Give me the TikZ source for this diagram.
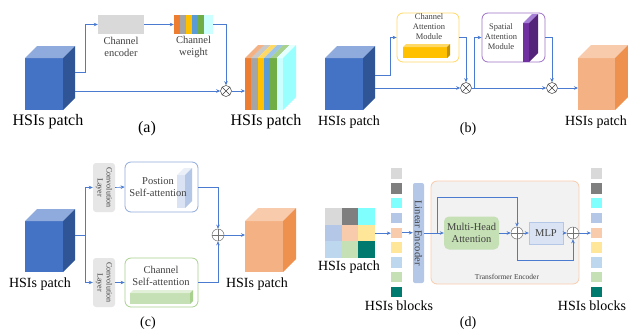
\documentclass[tikz,border=0pt]{standalone}
\usepackage{fontspec}
\setmainfont{Liberation Serif}
\usetikzlibrary{arrows.meta}
\definecolor{lineblue}{HTML}{4A7BD0}
\definecolor{blueF}{HTML}{4472C4}
\definecolor{blueT}{HTML}{8FAADC}
\definecolor{blueS}{HTML}{2F5597}
\definecolor{peachF}{HTML}{F4B183}
\definecolor{peachT}{HTML}{F8CBAD}
\definecolor{peachS}{HTML}{EE914F}
\definecolor{stO}{HTML}{ED7D31}
\definecolor{stG}{HTML}{A5A5A5}
\definecolor{stY}{HTML}{FFC000}
\definecolor{stB}{HTML}{5B9BD5}
\definecolor{stGr}{HTML}{70AD47}
\definecolor{stC}{HTML}{CCFFFF}
\definecolor{stOt}{HTML}{F4B183}
\definecolor{stGt}{HTML}{C9C9C9}
\definecolor{stYt}{HTML}{FFD966}
\definecolor{stBt}{HTML}{9DC3E6}
\definecolor{stGrt}{HTML}{A9D18E}
\definecolor{stCt}{HTML}{E5FFFF}
\definecolor{cyanS}{HTML}{99FFFF}
\definecolor{encgray}{HTML}{D9D9D9}
\definecolor{goldB}{HTML}{FFD966}
\definecolor{goldF}{HTML}{FFC000}
\definecolor{goldT}{HTML}{FFD966}
\definecolor{goldS}{HTML}{BF9000}
\definecolor{purB}{HTML}{9E72C8}
\definecolor{purF}{HTML}{7030A0}
\definecolor{purT}{HTML}{A680D6}
\definecolor{purS}{HTML}{532479}
\definecolor{convgray}{HTML}{E7E6E6}
\definecolor{posB}{HTML}{8FAADC}
\definecolor{posF}{HTML}{DAE3F3}
\definecolor{posT}{HTML}{EAEFF8}
\definecolor{posS}{HTML}{B4C7E7}
\definecolor{grnB}{HTML}{A9D18E}
\definecolor{grnF}{HTML}{C5E0B4}
\definecolor{grnT}{HTML}{E2F0D9}
\definecolor{grnS}{HTML}{A9D18E}
\definecolor{linF}{HTML}{B4C7E7}
\definecolor{trF}{HTML}{F2F2F2}
\definecolor{trB}{HTML}{F8CBAD}
\definecolor{mlpF}{HTML}{DAE3F3}
\definecolor{txtgray}{HTML}{404040}
\definecolor{ca}{HTML}{D9D9D9}
\definecolor{cb}{HTML}{7F7F7F}
\definecolor{cc}{HTML}{80FFFF}
\definecolor{cd}{HTML}{B4C7E7}
\definecolor{ce}{HTML}{F8CBAD}
\definecolor{cf}{HTML}{FFE699}
\definecolor{cg}{HTML}{BDD7EE}
\definecolor{ch}{HTML}{C5E0B4}
\definecolor{ci}{HTML}{007A6E}
\newcommand{\cubenode}[9]{%
  \node[inner sep=0pt, outer sep=0pt, minimum width=#4, minimum height=#5, anchor=north west, fill=#7] (#1) at (#2,#3) {};
  \fill[#8] (#1.north west) -- ++(#6,-#6) -- ++(#4,0) -- (#1.north east) -- cycle;
  \fill[#9] (#1.north east) -- ++(#6,-#6) -- ++(0,#5) -- (#1.south east) -- cycle;
}
\begin{document}
\begin{tikzpicture}[x=1pt,y=-1pt,
  conn/.style={draw=lineblue, line width=0.6pt},
  arr/.style={conn, -{Stealth[length=4pt,width=3.5pt]}},
  lbl/.style={font=\fontsize{14}{16}\selectfont, inner sep=0pt},
  lblA/.style={font=\fontsize{16}{18}\selectfont, inner sep=0pt},
  smA/.style={font=\fontsize{10.5}{12}\selectfont, text=txtgray, inner sep=0pt, align=center},
  smB/.style={font=\fontsize{8.5}{10}\selectfont, text=txtgray, inner sep=0pt, align=center},
  smC/.style={font=\fontsize{8}{9}\selectfont, text=txtgray, inner sep=0pt, align=center},
  smD/.style={font=\fontsize{10.5}{12}\selectfont, text=txtgray, inner sep=0pt, align=center},
  otimes/.style={circle, draw=black!75, line width=0.5pt, fill=white, minimum size=11pt, inner sep=0pt,
    path picture={\draw[black!75, line width=0.5pt] (path picture bounding box.south west) -- (path picture bounding box.north east) (path picture bounding box.north west) -- (path picture bounding box.south east);}},
  oplus/.style={circle, draw=black!55, line width=0.5pt, fill=white, minimum size=12pt, inner sep=0pt,
    path picture={\draw[black!55, line width=0.5pt] (path picture bounding box.west) -- (path picture bounding box.east) (path picture bounding box.north) -- (path picture bounding box.south);}},
  blk/.style={minimum width=11, minimum height=10.5, inner sep=0pt},
  rbox/.style={line width=0.8pt, rounded corners=6pt, fill=white, inner sep=0pt},
]
\useasboundingbox (0,0) rectangle (628,333);
\fill[white] (0,0) rectangle (628,333);

% ---------------- (a)
\cubenode{ain}{25}{58}{38}{52}{12}{blueF}{blueT}{blueS}
\node[lblA] (ainl) at (48,122) {HSIs patch};
\node[fill=encgray, minimum width=46, minimum height=19, inner sep=0pt] (enc) at (121,24.5) {};
\node[smA] (encl) at (121,47) {Channel\\encoder};
\node[minimum width=39, minimum height=19, inner sep=0pt] (wgt) at (193.5,24.5) {};
\foreach \c [count=\i from 0] in {stO,stG,stY,stB,stGr} \fill[\c] (174+6*\i,15) rectangle ++(6,19);
\fill[stC] (204,15) rectangle (213,34);
\node[smA] (wgtl) at (193.5,47) {Channel\\weight};
\node[otimes] (ma) at (226,91) {};
\coordinate (ao1) at (75,72);
\coordinate (ao2) at (75,91);
\draw[arr] (ao1) -- ++(10,0) |- (enc.west);
\draw[arr] (enc.east) -- (wgt.west);
\draw[arr] (wgt.east) -| (ma.north);
\draw[arr] (ao2) -- (ma.west);
\foreach \cf/\ct [count=\i from 0] in {stO/stOt,stG/stGt,stY/stYt,stB/stBt,stGr/stGrt,stC/stCt} {
  \fill[\cf] (245+6.333*\i,58) rectangle ++(6.333,52);
  \fill[\ct] (245+6.333*\i,58) -- ++(13,-13) -- ++(6.333,0) -- ++(-13,13) -- cycle;
}
\fill[cyanS] (283,58) -- ++(13,-13) -- ++(0,52) -- ++(-13,13) -- cycle;
\node[inner sep=0pt, minimum width=38, minimum height=52, anchor=north west] (aout) at (245,58) {};
\draw[arr] (ma.east) -- (ma.east -| aout.west);
\node[lblA] (aoutl) at (266,122) {HSIs patch};
\node[lblA] (capa) at (147,129) {(a)};

% ---------------- (b)
\cubenode{bin}{325}{58}{38}{52}{12}{blueF}{blueT}{blueS}
\node[lbl] (binl) at (349,122) {HSIs patch};
\node[rbox, draw=goldB, minimum width=62, minimum height=49] (cam) at (428,37.5) {};
\cubenode{gbar}{403}{47}{44}{11}{3}{goldF}{goldT}{goldS}
\node[smB] (caml) at (429,27) {Channel\\Attention\\Module};
\node[rbox, draw=purB, minimum width=63, minimum height=49] (sam) at (513.5,37.5) {};
\cubenode{pslab}{523}{23}{6}{39}{9}{purF}{purT}{purS}
\node[smB] (saml) at (501,37) {Spatial\\Attention\\Module};
\node[otimes] (mb1) at (466,88) {};
\node[otimes] (mb2) at (552,88) {};
\coordinate (bo1) at (375,75);
\coordinate (bo2) at (375,88);
\coordinate (bbr) at (474,88);
\draw[arr] (bo1) -- ++(15,0) |- (cam.west);
\draw[arr] (cam.east) -| (mb1.north);
\draw[arr] (bo2) -- (mb1.west);
\draw[arr] (mb1.east) -- (mb2.west);
\draw[arr] (bbr) |- (sam.west);
\draw[arr] (sam.east) -| (mb2.north);
\cubenode{bout}{578}{58}{37}{52}{13}{peachF}{peachT}{peachS}
\draw[arr] (mb2.east) -- (mb2.east -| bout.west);
\node[lbl] (boutl) at (596,122) {HSIs patch};
\node[lbl] (capb) at (468,129) {(b)};

% ---------------- (c)
\cubenode{cin}{25}{221}{38}{51}{12}{blueF}{blueT}{blueS}
\node[lbl] (cinl) at (40,284) {HSIs patch};
\node[fill=convgray, rounded corners=3pt, minimum width=22, minimum height=49, inner sep=0pt] (conv1) at (104,187.5) {};
\node[smC, rotate=-90] (conv1l) at (conv1.center) {Convolution\\Layer};
\node[fill=convgray, rounded corners=3pt, minimum width=22, minimum height=49, inner sep=0pt] (conv2) at (104,282.5) {};
\node[smC, rotate=-90] (conv2l) at (conv2.center) {Convolution\\Layer};
\node[rbox, draw=posB, minimum width=73, minimum height=50] (pos) at (161.5,187) {};
\cubenode{pslab2}{177}{175}{8}{33}{7}{posF}{posT}{posS}
\node[smD] (posl) at (158,187.5) {Postion\\Self-attention};
\node[rbox, draw=grnB, minimum width=73, minimum height=49] (chs) at (161.5,282.5) {};
\cubenode{gbar2}{130}{293}{60}{11}{3}{grnF}{grnT}{grnS}
\node[smD] (chsl) at (161,275.5) {Channel\\Self-attention};
\node[oplus] (pc) at (218,235) {};
\coordinate (co) at (75,235);
\coordinate (cbr) at (85,235);
\draw[conn] (co) -- (cbr);
\draw[arr] (cbr) |- (conv1.west);
\draw[arr] (cbr) |- (conv2.west);
\draw[arr] (conv1.east) -- (pos.west);
\draw[arr] (conv2.east) -- (chs.west);
\draw[arr] (pos.east) -| (pc.north);
\draw[arr] (chs.east) -| (pc.south);
\cubenode{cout}{245}{221}{38}{51}{13}{peachF}{peachT}{peachS}
\draw[arr] (pc.east) -- (pc.east -| cout.west);
\node[lbl] (coutl) at (257,284) {HSIs patch};
\node[lbl] (capc) at (148,323) {(c)};

% ---------------- (d)
\foreach \c [count=\i from 0] in {ca,cb,cc,cd,ce,cf,cg,ch,ci} {
  \pgfmathtruncatemacro\col{mod(\i,3)}
  \pgfmathtruncatemacro\row{\i/3}
  \fill[\c] (325+16.667*\col,208+16.667*\row) rectangle ++(16.667,16.667);
  \node[blk, fill=\c] (bl\i) at (396.5,173.55+14.8*\i) {};
  \node[blk, fill=\c] (br\i) at (596.5,173.55+14.8*\i) {};
}
\node[inner sep=0pt, minimum size=50, anchor=north west] (grid) at (325,208) {};
\node[lbl] (gridl) at (349,267) {HSIs patch};
\node[lbl] (bll) at (399,306) {HSIs blocks};
\node[lbl] (brl) at (592,306) {HSIs blocks};
\node[fill=linF, rounded corners=2pt, minimum width=11, minimum height=100, inner sep=0pt] (lin) at (418.5,233) {};
\node[smD, rotate=-90] (linl) at (lin.center) {Linear Encoder};
\node[fill=trF, draw=trB, line width=0.8pt, rounded corners=6pt, minimum width=148, minimum height=103, inner sep=0pt] (tr) at (505,232.5) {};
\node[font=\fontsize{7.5}{9}\selectfont, text=txtgray, inner sep=0pt] (trl) at (507,277) {Transformer Encoder};
\node[smD, fill=grnF, rounded corners=5pt, minimum width=55, minimum height=33] (mha) at (471.5,233) {Multi-Head\\Attention};
\node[oplus] (pd1) at (517,233) {};
\node[smD, fill=mlpF, draw=posS, line width=0.4pt, minimum width=34, minimum height=22] (mlp) at (546,233) {MLP};
\node[oplus] (pd2) at (573,233) {};
\draw[arr] (grid.east) -- (grid.east -| bl4.west);
\draw[arr] (bl4.east) -- (bl4.east -| lin.west);
\coordinate (dbr) at (437,233);
\coordinate (dtop) at (517,197);
\coordinate (dbot) at (573,260);
\draw[arr] (lin.east) -- (mha.west);
\draw[arr] (dbr) |- (dtop) -- (pd1.north);
\draw[arr] (mha.east) -- (pd1.west);
\draw[arr] (pd1.east) -- (mlp.west);
\draw[arr] (pd1.south) |- (dbot) -- (pd2.south);
\draw[arr] (mlp.east) -- (pd2.west);
\draw[arr] (pd2.east) -- (pd2.east -| br4.west);
\node[lbl] (capd) at (468,323) {(d)};
\end{tikzpicture}
\end{document}
